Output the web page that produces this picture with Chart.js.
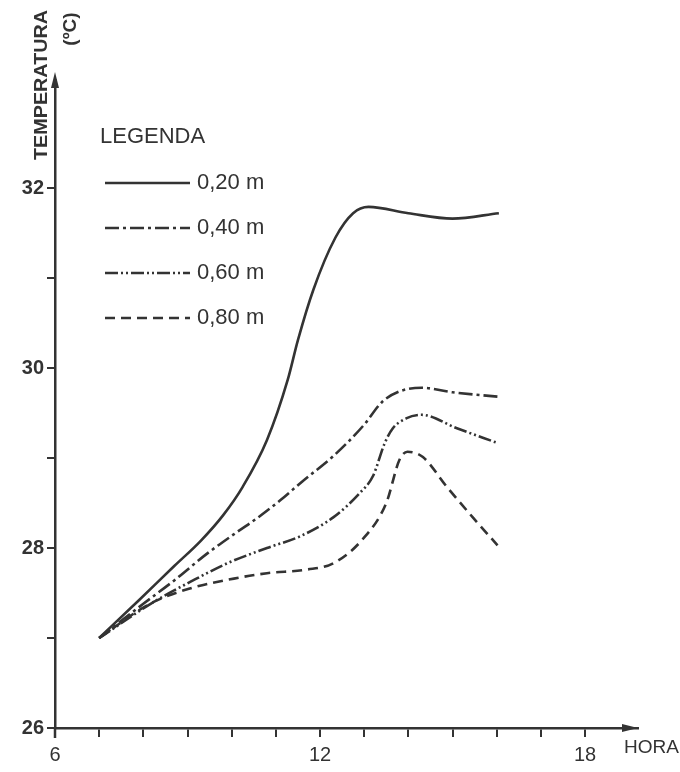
<!DOCTYPE html>
<html>
<head>
<meta charset="utf-8">
<script src="https://cdn.jsdelivr.net/npm/chart.js@4.4.1/dist/chart.umd.min.js"></script>
<style>
  body { margin: 0; background: #fff; }
  #box { width: 680px; height: 772px; position: relative; }
</style>
</head>
<body>
<div id="box"><canvas id="temp"></canvas></div>
<script>
// dados (hora x temperatura)
var depths = ["0,20 m", "0,40 m", "0,60 m", "0,80 m"];

var hours020 = [7.0, 7.9, 8.7, 9.3, 9.8, 10.25, 10.8, 11.27, 11.5, 11.85, 12.35, 12.75, 13.1, 14.0, 15.0, 16.05];
var temp020  = [27.0, 27.42, 27.8, 28.08, 28.36, 28.68, 29.2, 29.87, 30.31, 30.87, 31.45, 31.72, 31.79, 31.72, 31.66, 31.72];

var hours040 = [7.0, 8.0, 8.7, 9.45, 10.1, 10.6, 11.1, 11.6, 12.3, 13.0, 13.4, 13.8, 14.3, 15.0, 16.05];
var temp040  = [27.0, 27.38, 27.64, 27.94, 28.17, 28.34, 28.53, 28.74, 29.02, 29.37, 29.62, 29.74, 29.78, 29.73, 29.68];

var hours060 = [7.0, 8.3, 9.05, 9.9, 10.8, 11.55, 12.3, 12.9, 13.2, 13.47, 13.65, 13.95, 14.3, 15.1, 16.0];
var temp060  = [27.0, 27.42, 27.62, 27.83, 28.0, 28.13, 28.34, 28.61, 28.8, 29.17, 29.33, 29.44, 29.48, 29.33, 29.17];

var hours080 = [7.0, 8.15, 9.05, 10.05, 10.8, 11.7, 12.3, 12.97, 13.5, 13.8, 13.98, 14.33, 14.87, 15.46, 16.02];
var temp080  = [27.0, 27.38, 27.55, 27.66, 27.72, 27.76, 27.83, 28.1, 28.5, 28.98, 29.07, 29.01, 28.68, 28.34, 28.03];

var xLabels = [6, 12, 18];
var yLabels = [26, 28, 30, 32];

var ink = "#333333";
var fonte = "'Liberation Sans', Arial, sans-serif";

function pares(xs, ys) {
    return xs.map((x, i) => ({ x: x, y: ys[i] }));
}

function serie(label, xs, ys, dash) {
    return {
        label: label,
        data: pares(xs, ys),
        borderColor: ink,
        borderWidth: 2.6,
        borderDash: dash,
        pointRadius: 0,
        showLine: true,
        fill: false,
        cubicInterpolationMode: 'monotone'
    };
}

// textos, setas e legenda desenhados por cima;
var extras = {
    id: 'extras',
    afterDraw: (chart) => {
        var ctx = chart.ctx;
        var a = chart.chartArea;
        ctx.save();
        ctx.fillStyle = ink;
        ctx.strokeStyle = ink;

        // prolongamento do eixo y abaixo da origem
        ctx.lineWidth = 2.5;
        ctx.beginPath();
        ctx.moveTo(a.left, a.bottom);
        ctx.lineTo(a.left, a.bottom + 10);
        ctx.stroke();

        // setas dos eixos
        ctx.beginPath();
        ctx.moveTo(a.left, a.top - 8);
        ctx.lineTo(a.left - 4, a.top + 8);
        ctx.lineTo(a.left + 4, a.top + 8);
        ctx.closePath();
        ctx.fill();
        ctx.beginPath();
        ctx.moveTo(a.right, a.bottom);
        ctx.lineTo(a.right - 16, a.bottom - 4);
        ctx.lineTo(a.right - 16, a.bottom + 4);
        ctx.closePath();
        ctx.fill();

        // titulo do eixo y
        ctx.save();
        ctx.translate(47, 85);
        ctx.rotate(-Math.PI / 2);
        ctx.font = "bold 19px " + fonte;
        ctx.textAlign = "center";
        ctx.textBaseline = "alphabetic";
        var w = ctx.measureText("TEMPERATURA").width;
        ctx.scale(150 / w, 1);
        ctx.fillText("TEMPERATURA", 0, 0);
        ctx.restore();
        ctx.save();
        ctx.translate(76, 29);
        ctx.rotate(-Math.PI / 2);
        ctx.font = "bold 19px " + fonte;
        ctx.textAlign = "center";
        ctx.fillText("(ºC)", 0, 0);
        ctx.restore();

        // titulo do eixo x
        ctx.font = "19px " + fonte;
        ctx.textAlign = "right";
        ctx.textBaseline = "middle";
        ctx.fillText("HORA", 679, 748);

        // legenda
        ctx.textAlign = "left";
        ctx.font = "22px " + fonte;
        ctx.fillText("LEGENDA", 100, 137);
        chart.data.datasets.forEach((ds, i) => {
            var y = 183 + i * 45;
            ctx.beginPath();
            ctx.lineWidth = 2.6;
            ctx.setLineDash(ds.borderDash || []);
            ctx.moveTo(105, y);
            ctx.lineTo(190, y);
            ctx.stroke();
            ctx.setLineDash([]);
            ctx.fillText(ds.label, 197, y);
        });
        ctx.restore();
    }
};

var grafico = new Chart(document.getElementById("temp"), {
    type: 'scatter',
    data: {
        datasets: [
            serie(depths[0], hours020, temp020, []),
            serie(depths[1], hours040, temp040, [14, 4, 3, 4]),
            serie(depths[2], hours060, temp060, [13, 3, 2, 3, 2, 3]),
            serie(depths[3], hours080, temp080, [10, 6])
        ]
    },
    options: {
        responsive: true,
        maintainAspectRatio: false,
        animation: false,
        layout: { padding: { top: 80, right: 42, left: 0, bottom: 0 } },
        plugins: {
            legend: { display: false },
            tooltip: { enabled: false }
        },
        scales: {
            x: {
                type: 'linear',
                min: 6,
                max: 19.2,
                afterFit: (s) => { s.height = 44; },
                afterBuildTicks: (s) => { s.ticks = s.ticks.filter(t => t.value <= 18); },
                border: { color: ink, width: 2.5 },
                grid: { drawOnChartArea: false, drawTicks: true, tickLength: 9, color: ink, lineWidth: 2 },
                ticks: {
                    stepSize: 1,
                    autoSkip: false,
                    maxRotation: 0,
                    padding: 6,
                    color: ink,
                    font: { family: fonte, size: 20 },
                    callback: (v) => xLabels.includes(v) ? String(v) : ''
                }
            },
            y: {
                min: 26,
                max: 33.2,
                afterFit: (s) => { s.width = 55; },
                afterBuildTicks: (s) => { s.ticks = s.ticks.filter(t => t.value <= 32); },
                border: { color: ink, width: 2.5 },
                grid: { drawOnChartArea: false, drawTicks: true, tickLength: 8, color: ink, lineWidth: 2 },
                ticks: {
                    stepSize: 1,
                    autoSkip: false,
                    padding: 3,
                    color: ink,
                    font: { family: fonte, size: 20, weight: 'bold' },
                    callback: (v) => yLabels.includes(v) ? String(v) : ''
                }
            }
        }
    },
    plugins: [extras]
});
</script>
</body>
</html>
